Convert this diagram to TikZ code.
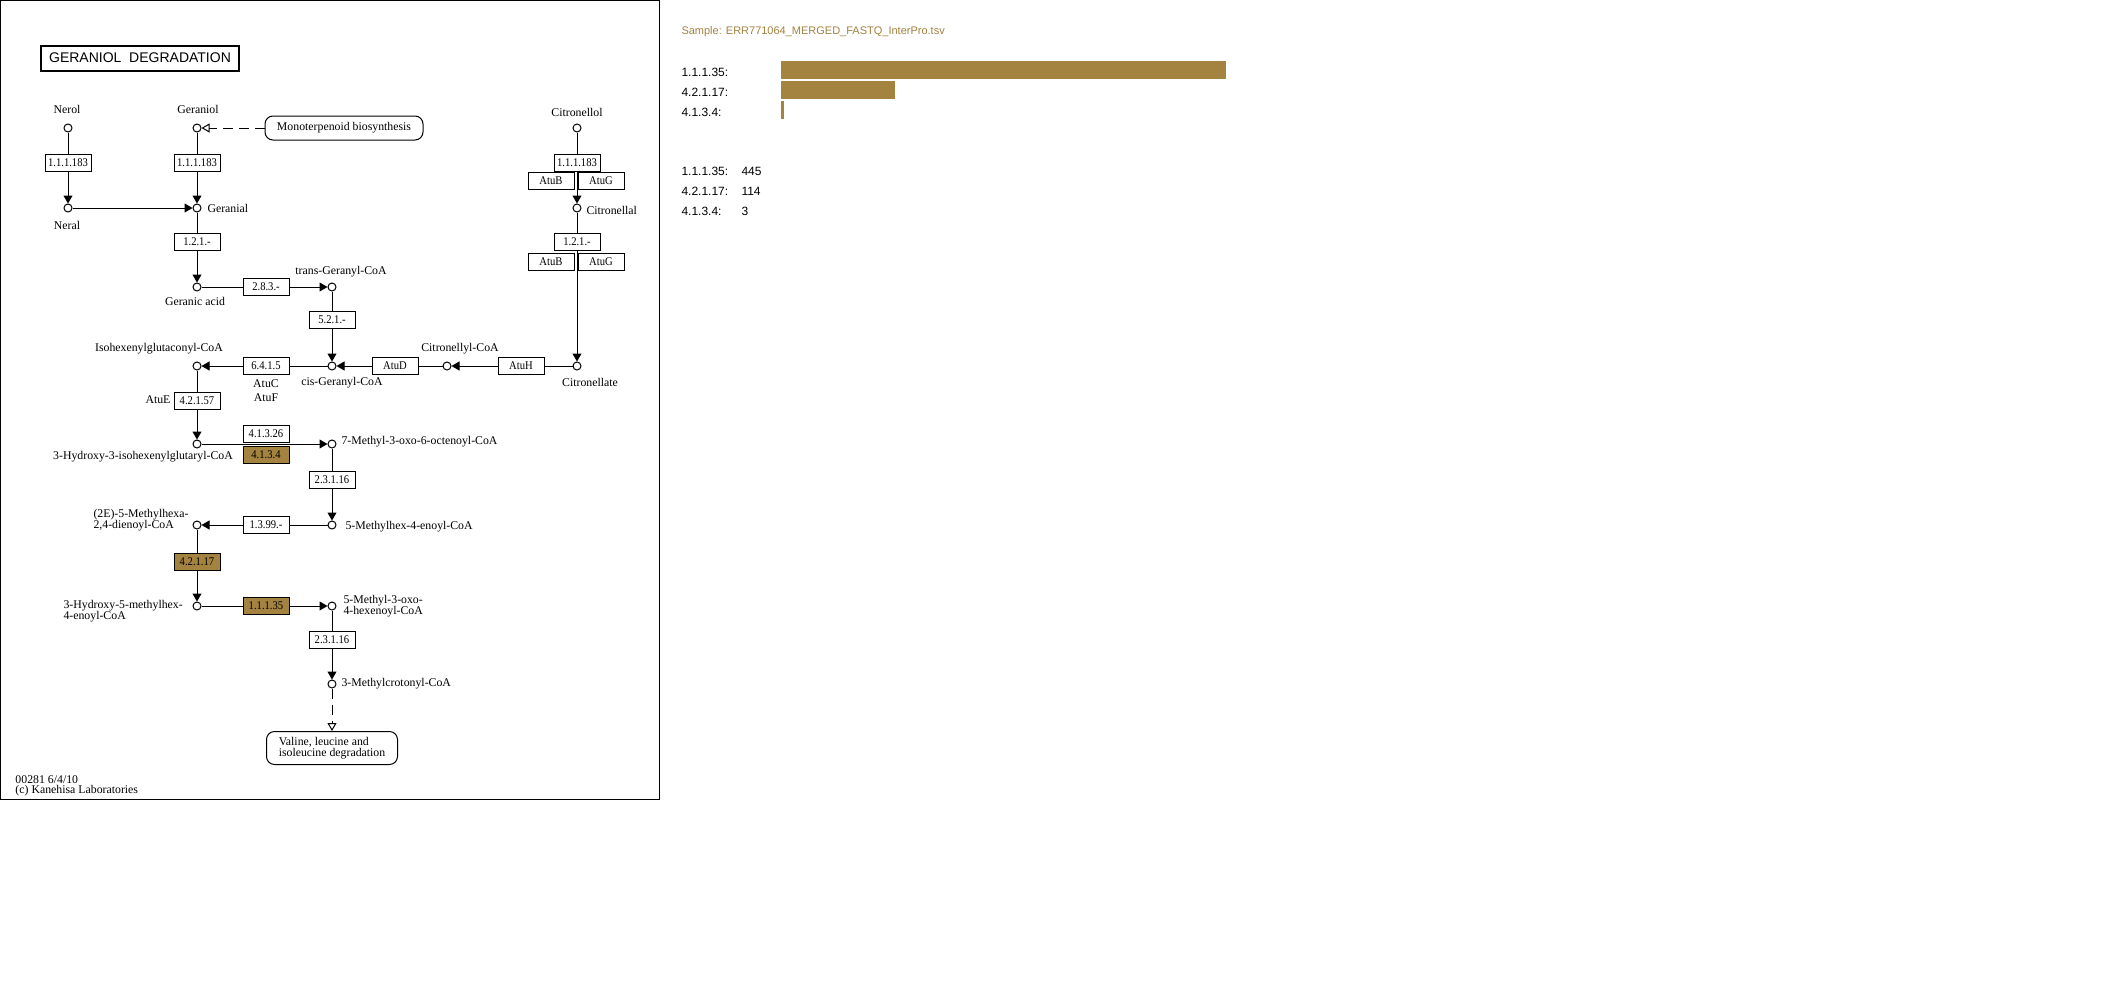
\documentclass[tikz,border=0pt]{standalone}
\usepackage{fontspec}
\setmainfont{Liberation Serif}
\newfontfamily\enzfamily[FakeStretch=0.9]{Liberation Serif}
\newfontfamily\panelfamily{Liberation Sans}
\usepackage{xcolor}
\usepackage{tikz}
\usetikzlibrary{arrows.meta}
\definecolor{keggbrown}{RGB}{164,130,64}
\newcommand{\cpdsize}{\fontsize{5.9}{5.6}\selectfont}
\newcommand{\enzsize}{\enzfamily\fontsize{5.9}{6}\selectfont}
\newcommand{\titlesize}{\panelfamily\fontsize{7}{8}\selectfont}
\newcommand{\panelsize}{\panelfamily\fontsize{6}{7}\selectfont}

\begin{document}
\begin{tikzpicture}[x=0.5pt,y=-0.5pt,line width=0.5pt,
    >={Triangle[length=4pt,width=4.5pt]},
    cpd/.style={circle,draw,fill=white,inner sep=0pt,minimum size=4pt},
    enz/.style={draw,fill=white,inner sep=0pt,minimum width=23pt,minimum height=8.5pt,font=\enzsize},
    hit/.style={enz,fill=keggbrown},
    lbl/.style={inner sep=0pt,font=\cpdsize},
    pmap/.style={draw,rounded corners=4pt,inner sep=0pt,font=\cpdsize},
    link/.style={dash pattern=on 5pt off 3pt,-{Triangle[open,length=4pt,width=4.5pt]}},
    plbl/.style={anchor=west,inner sep=0pt,font=\panelsize}]
		% Page and map frame
		\path[use as bounding box,fill=white] (0,0) rectangle (2106,1001);
		\draw (0.5,0.5) rectangle (659.5,799.5);
		\node[draw,line width=1pt,minimum width=99pt,minimum height=12.5pt,inner sep=0pt,font=\titlesize] (t0) at (140,58) {GERANIOL\ \ DEGRADATION};
		% Compounds
		\node[cpd] (c1) at (68,128) {};
		\node[cpd] (c2) at (197,128) {};
		\node[cpd] (c3) at (577,128) {};
		\node[cpd] (c4) at (68,208) {};
		\node[cpd] (c5) at (197,208) {};
		\node[cpd] (c6) at (577,208) {};
		\node[cpd] (c7) at (197,287) {};
		\node[cpd] (c8) at (332,287) {};
		\node[cpd] (c9) at (577,366) {};
		\node[cpd] (c10) at (447,366) {};
		\node[cpd] (c11) at (332,366) {};
		\node[cpd] (c12) at (197,366) {};
		\node[cpd] (c13) at (197,444) {};
		\node[cpd] (c14) at (332,444) {};
		\node[cpd] (c15) at (332,525) {};
		\node[cpd] (c16) at (197,525) {};
		\node[cpd] (c17) at (197,606) {};
		\node[cpd] (c18) at (332,606) {};
		\node[cpd] (c19) at (332,684) {};
		% Compound names
		\node[lbl] (l1) at (67,109) {Nerol};
		\node[lbl] (l2) at (198,109) {Geraniol};
		\node[lbl] (l3) at (577,112) {Citronellol};
		\node[lbl] (l4) at (67,225) {Neral};
		\node[lbl,anchor=west] (l5) at (207,208) {Geranial};
		\node[lbl,anchor=west] (l6) at (586,210) {Citronellal};
		\node[lbl] (l7) at (195,301) {Geranic acid};
		\node[lbl] (l8) at (341,272) {trans-Geranyl-CoA};
		\node[lbl] (l9) at (590,382) {Citronellate};
		\node[lbl] (l10) at (460,349) {Citronellyl-CoA};
		\node[lbl] (l11) at (342,383) {cis-Geranyl-CoA};
		\node[lbl] (l12) at (159,349) {Isohexenylglutaconyl-CoA};
		\node[lbl] (l13) at (143,457) {3-Hydroxy-3-isohexenylglutaryl-CoA};
		\node[lbl,anchor=west] (l14) at (341,442) {7-Methyl-3-oxo-6-octenoyl-CoA};
		\node[lbl,anchor=west] (l15) at (345,527) {5-Methylhex-4-enoyl-CoA};
		\node[lbl,anchor=west,align=left] (l16) at (93,520) {(2E)-5-Methylhexa-\\2,4-dienoyl-CoA};
		\node[lbl,anchor=west,align=left] (l17) at (63,611) {3-Hydroxy-5-methylhex-\\4-enoyl-CoA};
		\node[lbl,anchor=west,align=left] (l18) at (343,606) {5-Methyl-3-oxo-\\4-hexenoyl-CoA};
		\node[lbl,anchor=west] (l19) at (341,684) {3-Methylcrotonyl-CoA};
		% Enzymes
		\node[enz] (e1) at (68,163) {1.1.1.183};
		\node[enz] (e2) at (197,163) {1.1.1.183};
		\node[enz] (e3) at (577,163) {1.1.1.183};
		\node[enz] (e3b) at (551,181) {AtuB};
		\node[enz] (e3g) at (601,181) {AtuG};
		\node[enz] (e4) at (197,242) {1.2.1.-};
		\node[enz] (e5) at (577,242) {1.2.1.-};
		\node[enz] (e5b) at (551,262) {AtuB};
		\node[enz] (e5g) at (601,262) {AtuG};
		\node[enz] (e6) at (266,287) {2.8.3.-};
		\node[enz] (e7) at (332,320) {5.2.1.-};
		\node[enz] (e8) at (521,366) {AtuH};
		\node[enz] (e9) at (395,366) {AtuD};
		\node[enz] (e10) at (266,366) {6.4.1.5};
		\node[enz] (e11) at (197,401) {4.2.1.57};
		\node[enz] (e12) at (266,434) {4.1.3.26};
		\node[hit] (e13) at (266,455) {4.1.3.4};
		\node[enz] (e14) at (332,480) {2.3.1.16};
		\node[enz] (e15) at (266,525) {1.3.99.-};
		\node[hit] (e16) at (197,562) {4.2.1.17};
		\node[hit] (e17) at (266,606) {1.1.1.35};
		\node[enz] (e18) at (332,640) {2.3.1.16};
		\node[lbl] (a1) at (266,384) {AtuC};
		\node[lbl] (a2) at (266,398) {AtuF};
		\node[lbl] (a3) at (158,400) {AtuE};
		% Pathway maps
		\node[pmap,minimum width=79pt,minimum height=12pt] (m1) at (344,128) {Monoterpenoid biosynthesis};
		\node[pmap,minimum width=65.5pt,minimum height=16.5pt,align=left] (m2) at (332,748) {Valine, leucine and\\isoleucine degradation};
		% Reactions
		\draw[link] (m1) -- (c2);
		\draw (c1) -- (e1);
		\draw[->] (e1) -- (c4);
		\draw (c2) -- (e2);
		\draw[->] (e2) -- (c5);
		\draw[->] (c4) -- (c5);
		\draw (c3) -- (e3);
		\draw[->] (e3) -- (c6);
		\draw (c5) -- (e4);
		\draw[->] (e4) -- (c7);
		\draw (c6) -- (e5);
		\draw[->] (e5) -- (c9);
		\draw (c7) -- (e6);
		\draw[->] (e6) -- (c8);
		\draw (c8) -- (e7);
		\draw[->] (e7) -- (c11);
		\draw (c9) -- (e8);
		\draw[->] (e8) -- (c10);
		\draw (c10) -- (e9);
		\draw[->] (e9) -- (c11);
		\draw (c11) -- (e10);
		\draw[->] (e10) -- (c12);
		\draw (c12) -- (e11);
		\draw[->] (e11) -- (c13);
		\draw[->] (c13) -- (c14);
		\draw (c14) -- (e14);
		\draw[->] (e14) -- (c15);
		\draw (c15) -- (e15);
		\draw[->] (e15) -- (c16);
		\draw (c16) -- (e16);
		\draw[->] (e16) -- (c17);
		\draw (c17) -- (e17);
		\draw[->] (e17) -- (c18);
		\draw (c18) -- (e18);
		\draw[->] (e18) -- (c19);
		\draw[link] (c19) -- (m2);
		% Footer
		\node[lbl,anchor=west] (f1) at (15,780) {00281 6/4/10};
		\node[lbl,anchor=west] (f2) at (15,791) {(c) Kanehisa Laboratories};
		% Sample panel
		\node[plbl,text=keggbrown,font=\panelfamily\fontsize{5.5}{6}\selectfont] (s0) at (681,32) {Sample: ERR771064\_MERGED\_FASTQ\_InterPro.tsv};
		\fill[keggbrown] (781,61) rectangle (1226,79);
		\fill[keggbrown] (781,81) rectangle (895,99);
		\fill[keggbrown] (781,101) rectangle (784,119);
		\node[plbl] (s1) at (681,72) {1.1.1.35:};
		\node[plbl] (s2) at (681,92) {4.2.1.17:};
		\node[plbl] (s3) at (681,112) {4.1.3.4:};
		\node[plbl] (s4) at (681,171) {1.1.1.35:};
		\node[plbl] (s5) at (681,191) {4.2.1.17:};
		\node[plbl] (s6) at (681,211) {4.1.3.4:};
		\node[plbl] (n1) at (741,171) {445};
		\node[plbl] (n2) at (741,191) {114};
		\node[plbl] (n3) at (741,211) {3};
\end{tikzpicture}
\end{document}
